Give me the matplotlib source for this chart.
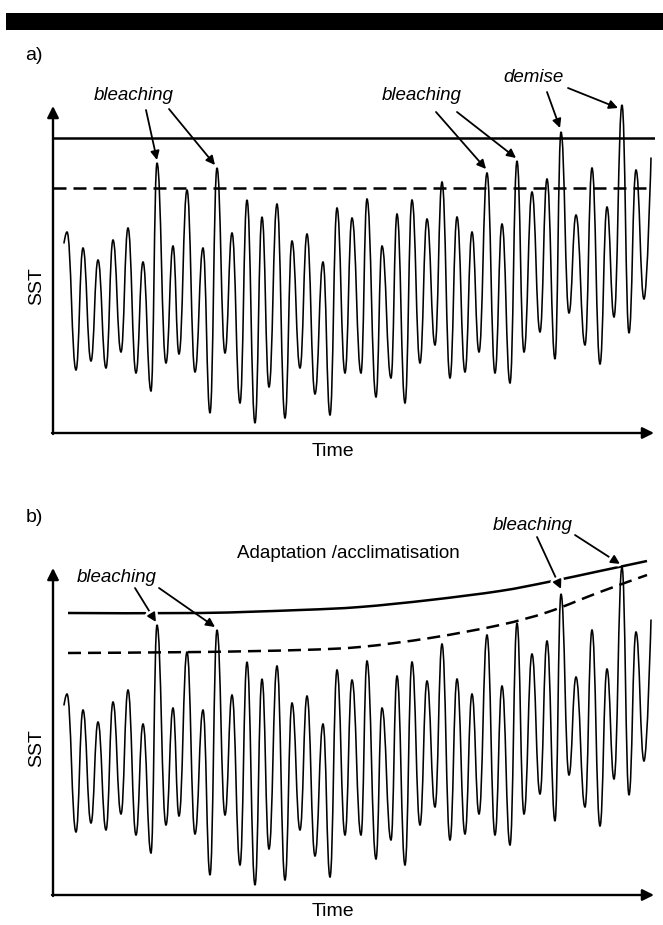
import numpy as np
import matplotlib.pyplot as plt
from matplotlib.path import Path
from matplotlib.patches import PathPatch, Rectangle
import matplotlib.patheffects as pe

plt.rcParams['font.family'] = ['Liberation Sans', 'DejaVu Sans']

W, H = 663, 925

# SST curve: successive turning points (time, SST), arbitrary units.
# panel b shows the same record
time_pts = [11, 14, 23, 30, 38, 45, 53, 60, 68, 75, 83, 90, 98, 104, 113, 120,
            126, 134, 142, 150, 157, 164, 172, 179, 187, 194, 202, 209, 216,
            224, 232, 239, 247, 254, 262, 270, 277, 284, 292, 299, 308, 314,
            323, 329, 338, 344, 352, 359, 367, 374, 382, 389, 397, 404, 412,
            419, 426, 434, 442, 449, 457, 464, 471, 479, 487, 494, 502, 508,
            516, 523, 532, 539, 547, 554, 561, 569, 576, 583, 591, 598]
sst_pts = [190, 201, 63, 185, 72, 173, 65, 193, 81, 205, 60, 171, 42, 270, 70,
           187, 79, 243, 61, 185, 20, 265, 80, 200, 30, 233, 10, 216, 46, 229,
           15, 192, 65, 199, 39, 171, 18, 225, 60, 215, 60, 234, 36, 187, 55,
           219, 30, 233, 70, 214, 88, 251, 55, 216, 61, 201, 81, 260, 60, 209,
           50, 272, 81, 241, 101, 254, 74, 301, 120, 218, 88, 265, 69, 226,
           116, 328, 100, 263, 134, 275]

# panel a: fixed thresholds
bleach_level = 295
stress_level = 245

# panel b: thresholds rising with adaptation
adapt_time = [15, 147, 247, 307, 377, 447, 495, 547, 594]
adapt_solid = [282, 282, 285, 288, 295, 304, 313, 324, 334]
adapt_dashed = [242, 243, 245, 248, 257, 270, 283, 303, 320]


def sst_path(t, s, k=0.45):
    # smooth wave with flat tops/bottoms at each turning point
    verts = [(t[0], s[0])]
    codes = [Path.MOVETO]
    n = len(t)
    for i in range(1, n):
        dx = t[i] - t[i - 1]
        c1 = (t[i - 1] + k * dx, s[i - 1]) if i > 1 else (t[0], s[0])
        c2 = (t[i] - k * dx, s[i]) if i < n - 1 else (t[i], s[i])
        verts += [c1, c2, (t[i], s[i])]
        codes += [Path.CURVE4] * 3
    return Path(verts, codes)


def smooth_path(t, s):
    # bezier through the points (catmull-rom tangents)
    p = np.column_stack([t, s]).astype(float)
    ext = np.vstack([p[0], p, p[-1]])
    verts = [tuple(p[0])]
    codes = [Path.MOVETO]
    for i in range(1, len(ext) - 2):
        c1 = ext[i] + (ext[i + 1] - ext[i - 1]) / 6
        c2 = ext[i + 1] - (ext[i + 2] - ext[i]) / 6
        verts += [tuple(c1), tuple(c2), tuple(ext[i + 1])]
        codes += [Path.CURVE4] * 3
    return Path(verts, codes)


fig = plt.figure(figsize=(W / 100, H / 100), dpi=100)
fig.add_artist(Rectangle((6 / W, 1 - 30 / H), 1, 17 / H, transform=fig.transFigure,
                         color='black', lw=0))


def ftext(x, y, s, **kw):
    fig.text(x / W, 1 - y / H, s, ha='center', va='center', **kw)


def panel(base):
    ax = fig.add_axes([53 / W, (H - base) / H, 602 / W, 345 / H])
    ax.set_xlim(0, 602)
    ax.set_ylim(0, 345)
    ax.axis('off')
    axis_arrow = dict(arrowstyle='-|>', lw=1.7, color='k', mutation_scale=17,
                      shrinkA=0, shrinkB=0)
    ax.annotate('', xy=(601, 0), xytext=(-1, 0), arrowprops=axis_arrow,
                annotation_clip=False)
    ax.annotate('', xy=(0, 327), xytext=(0, -1), arrowprops=axis_arrow,
                annotation_clip=False)
    ax.add_patch(PathPatch(sst_path(time_pts, sst_pts), fc='none', ec='black',
                           lw=1.15, capstyle='round'))
    return ax


def pointer(ax, start, end, halo=False):
    props = dict(arrowstyle='-|>', lw=1.3, color='k', mutation_scale=13,
                 shrinkA=0, shrinkB=0)
    ann = ax.annotate('', xy=end, xytext=start, arrowprops=props,
                      annotation_clip=False)
    if halo:
        ann.arrow_patch.set_path_effects([pe.withStroke(linewidth=5, foreground='white')])


label_font = dict(fontsize=14)
note_font = dict(fontsize=13.5, style='italic')

# ---- panel a
ax_a = panel(433)
ax_a.plot([0, 602], [bleach_level, bleach_level], color='k', lw=1.8)
ax_a.plot([0, 599], [stress_level, stress_level], color='k', lw=1.8,
          dashes=(5.2, 2.8))
for a, b in [((93, 323), (104, 273)), ((116, 324), (162, 268)),
             ((383, 321), (433, 264)), ((404, 321), (463, 275)),
             ((494, 341), (507, 305)), ((515, 345), (565, 325))]:
    pointer(ax_a, a, b)

ftext(34, 56, 'a)', **label_font)
ftext(134, 95, 'bleaching', **note_font)
ftext(422, 96, 'bleaching', **note_font)
ftext(533, 78, 'demise', **note_font)
ftext(333, 452, 'Time', **label_font)
ftext(37, 286, 'SST', rotation=90, **label_font)

# ---- panel b
ax_b = panel(895)
ax_b.add_patch(PathPatch(smooth_path(adapt_time, adapt_solid), fc='none',
                         ec='black', lw=1.8))
ax_b.add_patch(PathPatch(smooth_path(adapt_time, adapt_dashed), fc='none',
                         ec='black', lw=1.8, linestyle=(0, (5.2, 2.8))))
pointer(ax_b, (82, 307), (103, 273), halo=True)
pointer(ax_b, (106, 307), (162, 268))
pointer(ax_b, (484, 358), (508, 306), halo=True)
pointer(ax_b, (522, 360), (567, 331), halo=True)

ftext(34, 518, 'b)', **label_font)
ftext(117, 577, 'bleaching', **note_font)
ftext(533, 526, 'bleaching', **note_font)
ftext(348, 553, 'Adaptation /acclimatisation', fontsize=13.5)
ftext(333, 912, 'Time', **label_font)
ftext(37, 748, 'SST', rotation=90, **label_font)

fig.savefig('out.png', dpi=100)
